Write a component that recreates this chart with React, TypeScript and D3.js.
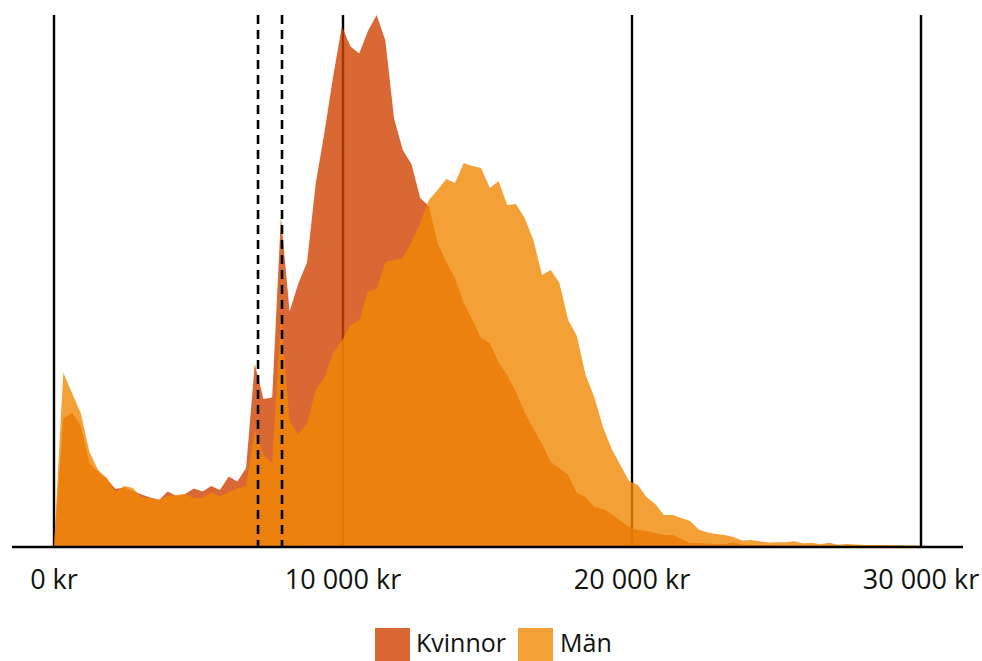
import React from "react";
import * as d3 from "d3";

// Income bins (kr) – first point at 0, last at 30 000
const incomeBins: number[] = [0, ...d3.range(1, 100).map((i) => 20 + 301.2 * i), 30000];

// Relative frequency (arbitrary units)
const kvinnor: number[] = [0,
  127.5, 133.3, 120.5, 83, 74, 67, 57, 58.5, 55, 51.5,
  48.5, 46, 54.5, 50, 52, 57.5, 54.5, 60, 56, 69.5,
  64.5, 78, 182, 147, 148.5, 329, 234.5, 262.5, 283.5, 362.5,
  413.5, 469.5, 519.5, 499.5, 492.5, 515, 531, 505.5, 427.5, 396,
  382, 348, 340, 303, 284, 268, 243, 226, 208, 203,
  183.5, 171, 154, 134, 117, 102, 84, 78, 71, 53,
  49, 39, 37, 32, 25, 19, 16, 15, 13, 11,
  11, 7, 3, 3, 2.5, 2, 2, 3.5, 1.5, 1,
  1, 1, 0.7, 0.7, 0.7, 0.5, 0.5, 0.5, 0.5, 0.3,
  0.3, 0.3, 0.2, 0.2, 0.2, 0.2, 0.2, 0.1, 0.1,
  0];

const man: number[] = [0,
  173.3, 153, 133, 94.3, 76, 68, 54, 60, 58, 48.5,
  48, 46.5, 50, 51, 52, 48, 48, 53.5, 49.5, 53.7,
  57.5, 60, 116, 91, 82.5, 231, 124.5, 112, 122.5, 156,
  168.5, 193, 205, 221, 225.5, 254.5, 257, 284, 286, 288,
  304, 323, 346, 356, 367, 363, 383, 380, 378, 358,
  365, 341, 342, 328, 306, 271, 276, 263, 226, 210,
  171, 149, 119, 97, 81, 65, 61, 49, 42, 31,
  31, 28, 25, 16.5, 13.5, 12, 11, 9, 5.5, 6,
  4.7, 3.5, 3.7, 3.7, 4.7, 2.7, 3.3, 1.7, 3.3, 1.3,
  2, 1.5, 1, 1, 1, 0.8, 0.7, 0.6, 0.5,
  0];

const tickValues: number[] = [0, 10000, 20000, 30000];
const tickLabels: string[] = ["0 kr", "10 000 kr", "20 000 kr", "30 000 kr"];
const dashedValues: number[] = [7060, 7890];
const seriesNames: string[] = ["Kvinnor", "Män"];

const W = 982;
const H = 661;
const FONT = "'Open Sans', 'Noto Sans', sans-serif";
const colK = "rgb(208,66,2)";
const colM = "rgb(240,136,4)";
const OP = 0.8;

export default function App() {
  const x = d3.scaleLinear().domain([0, 30000]).range([54, 921]);
  const y = d3.scaleLinear().domain([0, 531]).range([546, 15]);

  const area = d3
    .area<number>()
    .x((_, i) => x(incomeBins[i]))
    .y0(y(0))
    .y1((d) => y(d))
    .curve(d3.curveLinear);

  const top = y(531);
  const base = y(0);

  return (
    <div style={{ position: "absolute", left: 0, top: 0 }}>
      <svg width={W} height={H} style={{ display: "block", background: "#fff" }}>
        {tickValues.map((t) => (
          <line key={"v" + t} x1={x(t)} x2={x(t)} y1={top} y2={base} stroke="#000" strokeWidth={2.4} />
        ))}
        <path d={area(kvinnor) ?? ""} fill={colK} fillOpacity={OP} />
        <path d={area(man) ?? ""} fill={colM} fillOpacity={OP} />
        {dashedValues.map((t) => (
          <line key={"d" + t} x1={x(t)} x2={x(t)} y1={top} y2={base} stroke="#000" strokeWidth={2.6} strokeDasharray="9 6" />
        ))}
        <line x1={12} x2={963} y1={547} y2={547} stroke="#000" strokeWidth={2.6} />
        {tickValues.map((t, i) => (
          <text key={"t" + t} x={x(t)} y={589} textAnchor="middle" fontFamily={FONT} fontSize={27} fill="#111">
            {tickLabels[i]}
          </text>
        ))}
        <g>
          <rect x={375} y={628} width={35} height={35} fill={colK} fillOpacity={OP} />
          <text x={416} y={652} fontFamily={FONT} fontSize={25} fill="#111">{seriesNames[0]}</text>
          <rect x={518} y={628} width={35} height={35} fill={colM} fillOpacity={OP} />
          <text x={560} y={652} fontFamily={FONT} fontSize={25} fill="#111">{seriesNames[1]}</text>
        </g>
      </svg>
    </div>
  );
}
